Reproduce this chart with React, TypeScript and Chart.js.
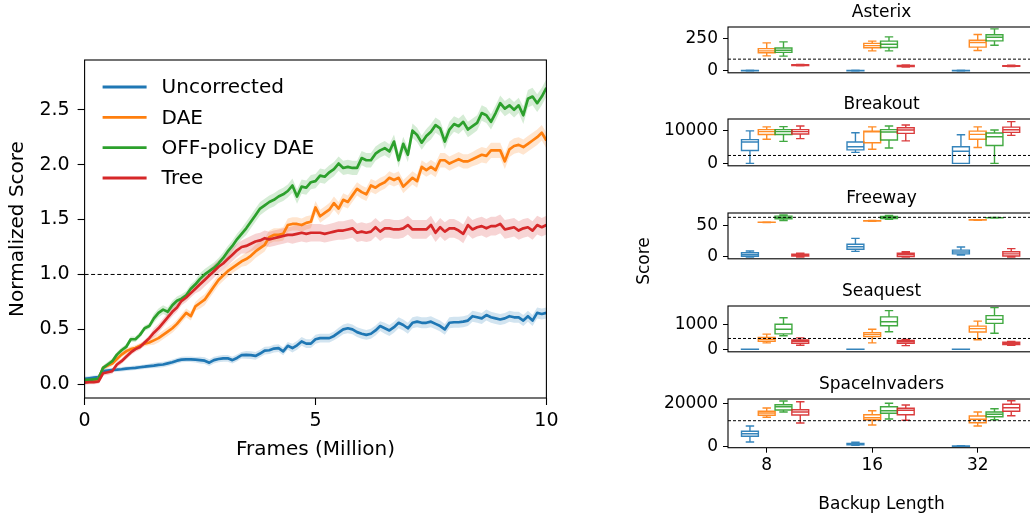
import React, { useEffect, useRef } from "react";
import { Chart, registerables } from "chart.js";
Chart.register(...registerables);

const FONT = "'DejaVu Sans', sans-serif";
const COLORS = ["#1f77b4", "#ff7f0e", "#2ca02c", "#d62728"];
const METHODS = ["Uncorrected", "DAE", "OFF-policy DAE", "Tree"];

// ---- Left panel data (normalized score vs frames, million) ----
const FRAMES = Array.from({ length: 101 }, (_, i) => i / 10);
const UNCORRECTED = [0.05,0.055,0.06,0.065,0.12,0.125,0.13,0.133,0.137,0.142,0.146,
0.15,0.155,0.16,0.166,0.17,0.176,0.18,0.19,0.2,0.215,
0.225,0.227,0.227,0.224,0.22,0.215,0.197,0.22,0.23,0.236,
0.236,0.22,0.24,0.265,0.267,0.265,0.258,0.28,0.306,0.31,
0.325,0.33,0.3,0.35,0.33,0.355,0.39,0.37,0.37,0.41,
0.42,0.42,0.42,0.44,0.47,0.5,0.51,0.5,0.475,0.46,
0.45,0.46,0.49,0.53,0.51,0.49,0.52,0.56,0.54,0.51,
0.56,0.57,0.56,0.56,0.57,0.55,0.53,0.5,0.56,0.565,
0.565,0.57,0.58,0.62,0.61,0.6,0.63,0.61,0.6,0.59,
0.6,0.62,0.61,0.61,0.58,0.62,0.58,0.65,0.64,0.65];
const DAE = [0.03,0.03,0.035,0.05,0.15,0.17,0.19,0.23,0.27,0.3,0.32,
0.33,0.35,0.37,0.38,0.4,0.42,0.45,0.48,0.51,0.55,
0.6,0.65,0.62,0.71,0.74,0.77,0.83,0.89,0.95,0.99,
1.03,1.06,1.09,1.12,1.14,1.17,1.21,1.24,1.27,1.34,
1.36,1.36,1.37,1.45,1.46,1.46,1.45,1.47,1.48,1.61,
1.53,1.56,1.59,1.65,1.6,1.68,1.66,1.72,1.78,1.75,
1.73,1.81,1.79,1.82,1.84,1.88,1.86,1.88,1.8,1.84,
1.88,1.85,1.98,1.95,1.98,1.95,2.04,2.04,2.01,2.03,
2.05,2.03,2.03,2.05,2.07,2.09,2.08,2.13,2.13,2.13,
2.03,2.14,2.17,2.18,2.16,2.19,2.22,2.25,2.29,2.22];
const OFF_POLICY_DAE = [0.04,0.04,0.045,0.05,0.15,0.18,0.21,0.27,0.31,0.34,0.41,
0.41,0.45,0.51,0.53,0.6,0.65,0.68,0.66,0.72,0.76,
0.78,0.81,0.87,0.91,0.96,1.0,1.03,1.06,1.1,1.15,
1.21,1.26,1.32,1.37,1.42,1.48,1.54,1.6,1.63,1.66,
1.68,1.71,1.73,1.76,1.81,1.71,1.8,1.79,1.84,1.85,
1.9,1.89,1.93,1.96,2.01,1.97,1.98,1.97,1.97,2.06,
2.04,2.04,2.1,2.13,2.15,2.12,2.21,2.04,2.19,2.09,
2.31,2.27,2.2,2.26,2.3,2.36,2.33,2.21,2.32,2.37,
2.35,2.39,2.32,2.35,2.38,2.47,2.45,2.39,2.47,2.56,
2.51,2.54,2.5,2.54,2.45,2.6,2.62,2.56,2.62,2.7];
const TREE = [0.015,0.02,0.02,0.025,0.1,0.11,0.12,0.18,0.21,0.25,0.29,
0.32,0.34,0.38,0.42,0.47,0.51,0.56,0.61,0.66,0.7,
0.76,0.79,0.83,0.87,0.91,0.95,0.99,1.03,1.07,1.1,
1.14,1.18,1.22,1.25,1.26,1.28,1.3,1.31,1.33,1.32,
1.33,1.34,1.35,1.36,1.36,1.37,1.38,1.37,1.38,1.38,
1.38,1.37,1.38,1.39,1.4,1.4,1.41,1.42,1.38,1.39,
1.38,1.39,1.43,1.39,1.42,1.42,1.41,1.41,1.42,1.45,
1.41,1.41,1.41,1.41,1.45,1.38,1.43,1.39,1.42,1.42,
1.4,1.37,1.45,1.41,1.43,1.44,1.42,1.44,1.44,1.46,
1.41,1.42,1.43,1.4,1.42,1.43,1.4,1.45,1.43,1.45];
// half-width of the shaded band, read at each million frames (0..10)
const UNCORRECTED_SPREAD = [0.02,0.02,0.025,0.03,0.035,0.04,0.045,0.05,0.05,0.05,0.05];
const DAE_SPREAD = [0.02,0.025,0.04,0.05,0.06,0.06,0.06,0.06,0.065,0.07,0.07];
const OFF_POLICY_DAE_SPREAD = [0.02,0.025,0.04,0.05,0.06,0.065,0.065,0.065,0.07,0.07,0.08];
const TREE_SPREAD = [0.02,0.025,0.04,0.06,0.07,0.08,0.085,0.085,0.085,0.085,0.085];
const LEFT_X_TICKS = [0, 5, 10];
const LEFT_Y_TICKS = [0, 0.5, 1, 1.5, 2, 2.5];
const HUMAN_LEVEL = 1;

// ---- Right panels data: [whiskerLow, q1, median, q3, whiskerHigh] per backup length ----
const BACKUP_LENGTHS = ["8", "16", "32"];
const GAMES = ["Asterix", "Breakout", "Freeway", "Seaquest", "SpaceInvaders"];
const ASTERIX_BOXES = [
  [[0,1,2,4,6],[0,1,2,3,5],[0,1,2,3,5]],
  [[115,139,153,170,214],[153,177,193,210,227],[156,182,217,234,278]],
  [[113,142,158,175,222],[153,179,203,227,260],[196,229,257,276,321]],
  [[40,42,45,47,50],[30,33,37,42,45],[33,36,38,41,44]],
];
const BREAKOUT_BOXES = [
  [[0,3900,6500,7250,9900],[3350,4100,5050,6500,9350],[0,0,3700,5050,8750]],
  [[7350,8800,9700,10300,11150],[4300,6300,9650,9850,11150],[4850,7350,8850,9850,11150]],
  [[6700,8800,9700,10300,11200],[4700,7150,9550,10300,11400],[0,5450,8100,9250,10200]],
  [[7550,8950,9700,10300,11400],[6850,9150,10200,10850,11700],[8550,9450,10250,11050,12750]],
];
const FREEWAY_BOXES = [
  [[0,1,4,7,9.5],[9,12.5,16.5,20.5,30],[3,5,8,11,16]],
  [[55.6,55.8,56,56.2,56.4],[57.6,57.9,58.2,58.5,58.8],[59.4,59.6,59.8,60,60.2]],
  [[59,61.5,63.5,66,68],[61,62,64,65.5,67],[63,63.2,63.4,63.6,63.8]],
  [[0,1.5,3,4.5,6],[0,0.5,3.5,6,8.5],[0,1.5,5,8.5,13.5]],
];
const SEAQUEST_BOXES = [
  [[0,0,2,5,10],[0,0,2,5,10],[0,0,2,5,10]],
  [[262,326,400,476,614],[262,513,600,674,813],[388,700,838,937,1138]],
  [[550,625,813,1010,1273],[712,951,1112,1311,1562],[650,1049,1211,1361,1685]],
  [[165,240,314,375,464],[150,240,300,355,400],[165,188,240,288,315]],
];
const SPACEINVADERS_BOXES = [
  [[2000,4650,5860,6980,9440],[500,700,1000,1300,1900],[0,0,100,200,300]],
  [[13490,14420,15490,16280,17810],[9910,12370,13300,14700,16560],[9440,10980,12560,14090,15950]],
  [[15950,16880,18420,19350,21070],[12700,15350,16560,18420,20000],[12370,13770,14880,15950,17490]],
  [[10840,14560,15950,17020,20740],[12090,14700,16740,17670,19210],[14230,16280,17950,19530,21210]],
];
const GAME_BOXES = [ASTERIX_BOXES, BREAKOUT_BOXES, FREEWAY_BOXES, SEAQUEST_BOXES, SPACEINVADERS_BOXES];
const GAME_Y_TICKS = [[0, 250], [0, 10000], [0, 50], [0, 1000], [0, 20000]];
const GAME_Y_RANGE = [[-14, 335], [-750, 13540], [-3, 71], [-100, 1750], [-650, 22000]];
const GAME_REFERENCE = [90, 2400, 64, 438, 11900];

// ---- layout (pixels) ----
const PANEL_TOPS = [26.7, 119.3, 212.7, 306, 399];
const PANEL_HEIGHTS = [49.3, 50, 49.3, 49.3, 48.7];

function rgba(hex: string, a: number) {
  const n = parseInt(hex.slice(1), 16);
  return `rgba(${(n >> 16) & 255},${(n >> 8) & 255},${n & 255},${a})`;
}

const framePlugin = {
  id: "frame",
  afterDatasetsDraw(chart: any) {
    const { ctx, chartArea: a } = chart;
    ctx.save();
    ctx.strokeStyle = "#000";
    ctx.lineWidth = 1.1;
    ctx.strokeRect(a.left, a.top, a.right - a.left, a.bottom - a.top);
    ctx.restore();
  },
};

function LeftChart() {
  const ref = useRef<HTMLCanvasElement>(null);
  useEffect(() => {
    const series = [UNCORRECTED, DAE, OFF_POLICY_DAE, TREE];
    const spreads = [UNCORRECTED_SPREAD, DAE_SPREAD, OFF_POLICY_DAE_SPREAD, TREE_SPREAD];
    const datasets: any[] = [];
    series.forEach((s, i) => {
      const sp = spreads[i];
      datasets.push({
        type: "line", label: "_lo" + i,
        data: FRAMES.map((x, j) => ({ x, y: s[j] - sp[Math.round(x)] })),
        borderWidth: 0, borderColor: "rgba(0,0,0,0)", pointRadius: 0, fill: false, order: 20 - i,
      });
      datasets.push({
        type: "line", label: "_hi" + i,
        data: FRAMES.map((x, j) => ({ x, y: s[j] + sp[Math.round(x)] })),
        borderWidth: 0, borderColor: "rgba(0,0,0,0)", pointRadius: 0, fill: "-1",
        backgroundColor: rgba(COLORS[i], 0.2), order: 20 - i,
      });
    });
    series.forEach((s, i) => {
      datasets.push({
        type: "line", label: METHODS[i],
        data: FRAMES.map((x, j) => ({ x, y: s[j] })),
        borderColor: COLORS[i], borderWidth: 2.7, pointRadius: 0, fill: false,
        borderJoinStyle: "round", order: 10 - i,
      });
    });

    const refLine = {
      id: "refLine",
      beforeDatasetsDraw(chart: any) {
        const { ctx, chartArea: a, scales } = chart;
        const y = scales.y.getPixelForValue(HUMAN_LEVEL);
        ctx.save();
        ctx.strokeStyle = "#000";
        ctx.lineWidth = 1;
        ctx.setLineDash([4, 2.5]);
        ctx.beginPath();
        ctx.moveTo(a.left, y);
        ctx.lineTo(a.right, y);
        ctx.stroke();
        ctx.restore();
      },
    };
    const legend = {
      id: "customLegend",
      afterDraw(chart: any) {
        const { ctx, chartArea: a } = chart;
        const rows = [27, 57.3, 87.7, 118];
        ctx.save();
        ctx.font = `20px ${FONT}`;
        ctx.textBaseline = "middle";
        ctx.fillStyle = "#000";
        METHODS.forEach((m, i) => {
          const y = a.top + rows[i];
          ctx.strokeStyle = COLORS[i];
          ctx.lineWidth = 2.8;
          ctx.beginPath();
          ctx.moveTo(a.left + 18, y);
          ctx.lineTo(a.left + 62, y);
          ctx.stroke();
          ctx.fillText(m, a.left + 77, y + 1);
        });
        ctx.restore();
      },
    };

    const chart = new Chart(ref.current!, {
      type: "line",
      data: { datasets },
      options: {
        animation: false,
        responsive: false,
        events: [],
        layout: { padding: { left: 0, right: 33.6, top: 60, bottom: 8 } },
        plugins: { legend: { display: false }, tooltip: { enabled: false } },
        scales: {
          x: {
            type: "linear", min: 0, max: 10,
            afterFit: (s: any) => { s.height = 64; },
            afterBuildTicks: (s: any) => { s.ticks = LEFT_X_TICKS.map((v) => ({ value: v })); },
            ticks: { font: { family: FONT, size: 19 }, color: "#000", padding: 5, maxRotation: 0, callback: (v: any) => String(v) },
            grid: { display: true, drawOnChartArea: false, drawTicks: true, tickLength: 7, tickWidth: 1.1, tickColor: "#000" },
            border: { display: false },
            title: { display: true, text: "Frames (Million)", font: { family: FONT, size: 20 }, color: "#000", padding: { top: 0, bottom: 0 } },
          },
          y: {
            type: "linear", min: -0.125, max: 2.953,
            afterFit: (s: any) => { s.width = 84.6; },
            afterBuildTicks: (s: any) => { s.ticks = LEFT_Y_TICKS.map((v) => ({ value: v })); },
            ticks: { font: { family: FONT, size: 19 }, color: "#000", padding: 8, callback: (v: any) => Number(v).toFixed(1) },
            grid: { display: true, drawOnChartArea: false, drawTicks: true, tickLength: 7, tickWidth: 1.1, tickColor: "#000" },
            border: { display: false },
            title: { display: true, text: "Normalized Score", font: { family: FONT, size: 20 }, color: "#000", padding: { top: 6, bottom: 0 } },
          },
        },
      } as any,
      plugins: [refLine, framePlugin, legend],
    });
    return () => chart.destroy();
  }, []);
  return <canvas ref={ref} width={580} height={470} style={{ position: "absolute", left: 0, top: 0, width: 580, height: 470 }} />;
}

const BOX_STEP = 0.159;
const BOX_WIDTH = 0.16;

function GamePanel({ g }: { g: number }) {
  const ref = useRef<HTMLCanvasElement>(null);
  const isLast = g === GAMES.length - 1;
  const top = PANEL_TOPS[g] - 25;
  const height = isLast ? 25 + PANEL_HEIGHTS[g] + 67.5 + 0.8 : 25 + PANEL_HEIGHTS[g] + 12;
  useEffect(() => {
    const boxes = {
      id: "boxes",
      afterDatasetsDraw(chart: any) {
        const { ctx, chartArea: a, scales } = chart;
        const xs = scales.x, ys = scales.y;
        const halfW = (xs.getPixelForValue(BOX_WIDTH) - xs.getPixelForValue(0)) / 2;
        ctx.save();
        ctx.beginPath();
        ctx.rect(a.left, a.top, a.right - a.left, a.bottom - a.top);
        ctx.clip();
        GAME_BOXES[g].forEach((method, m) => {
          ctx.strokeStyle = rgba(COLORS[m], 0.9);
          ctx.lineWidth = 1.4;
          method.forEach((st, k) => {
            const cx = xs.getPixelForValue(k + (m - 1) * BOX_STEP);
            const [lo, q1, med, q3, hi] = st.map((v: number) => ys.getPixelForValue(v));
            ctx.beginPath();
            ctx.rect(cx - halfW, q3, 2 * halfW, q1 - q3);
            ctx.moveTo(cx - halfW, med); ctx.lineTo(cx + halfW, med);
            ctx.moveTo(cx, q1); ctx.lineTo(cx, lo);
            ctx.moveTo(cx, q3); ctx.lineTo(cx, hi);
            ctx.moveTo(cx - halfW / 2, lo); ctx.lineTo(cx + halfW / 2, lo);
            ctx.moveTo(cx - halfW / 2, hi); ctx.lineTo(cx + halfW / 2, hi);
            ctx.stroke();
          });
        });
        const yRef = ys.getPixelForValue(GAME_REFERENCE[g]);
        ctx.strokeStyle = "#000";
        ctx.lineWidth = 1;
        ctx.setLineDash([3, 2]);
        ctx.beginPath();
        ctx.moveTo(a.left, yRef);
        ctx.lineTo(a.right, yRef);
        ctx.stroke();
        ctx.restore();
      },
    };
    const title = {
      id: "panelTitle",
      afterDraw(chart: any) {
        const { ctx, chartArea: a } = chart;
        ctx.save();
        ctx.font = `17px ${FONT}`;
        ctx.fillStyle = "#000";
        ctx.textAlign = "center";
        ctx.textBaseline = "middle";
        ctx.fillText(GAMES[g], (a.left + a.right) / 2, a.top - 14.5);
        ctx.restore();
      },
    };
    const chart = new Chart(ref.current!, {
      type: "scatter",
      data: { datasets: [] },
      options: {
        animation: false,
        responsive: false,
        events: [],
        layout: { padding: { left: 0, right: 5, top: 25, bottom: isLast ? 0.8 : 12 } },
        plugins: { legend: { display: false }, tooltip: { enabled: false } },
        scales: {
          x: {
            type: "linear", min: -0.367, max: 2.543, display: isLast,
            afterFit: isLast ? (s: any) => { s.height = 67.5; } : undefined,
            afterBuildTicks: (s: any) => { s.ticks = BACKUP_LENGTHS.map((_, i) => ({ value: i })); },
            ticks: { font: { family: FONT, size: 17 }, color: "#000", padding: 3, maxRotation: 0, callback: (v: any) => BACKUP_LENGTHS[Math.round(v)] },
            grid: { display: true, drawOnChartArea: false, drawTicks: true, tickLength: 5, tickWidth: 1, tickColor: "#000" },
            border: { display: false },
            title: { display: true, text: "Backup Length", font: { family: FONT, size: 17 }, color: "#000", padding: { top: 0, bottom: 0 } },
          },
          y: {
            type: "linear", min: GAME_Y_RANGE[g][0], max: GAME_Y_RANGE[g][1],
            afterFit: (s: any) => { s.width = 88; },
            afterBuildTicks: (s: any) => { s.ticks = GAME_Y_TICKS[g].map((v) => ({ value: v })); },
            ticks: { font: { family: FONT, size: 17 }, color: "#000", padding: 5, callback: (v: any) => String(v) },
            grid: { display: true, drawOnChartArea: false, drawTicks: true, tickLength: 5, tickWidth: 1, tickColor: "#000" },
            border: { display: false },
          },
        },
      } as any,
      plugins: [framePlugin, boxes, title],
    });
    return () => chart.destroy();
  }, [g]);
  return <canvas ref={ref} width={400} height={Math.round(height)} style={{ position: "absolute", left: 640, top, width: 400, height: Math.round(height) }} />;
}

export default function App() {
  return (
    <div style={{ position: "fixed", left: 0, top: 0, width: 1030, height: 516, overflow: "hidden", background: "#fff" }}>
      <LeftChart />
      {GAMES.map((_, g) => <GamePanel key={g} g={g} />)}
      <div style={{ position: "absolute", left: 593, top: 251, width: 100, height: 20, lineHeight: "20px", textAlign: "center", transform: "rotate(-90deg)", fontFamily: FONT, fontSize: 17, color: "#000" }}>Score</div>
    </div>
  );
}
